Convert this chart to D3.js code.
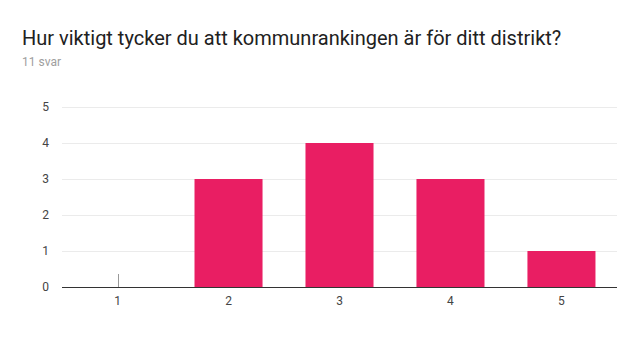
<!DOCTYPE html>
<html>
<head>
<meta charset="utf-8">
<script src="https://cdn.jsdelivr.net/npm/d3@7"></script>
<style>
  html, body { margin: 0; padding: 0; background: #fff; }
  svg { display: block; font-family: Roboto, "Noto Sans", Arial, sans-serif; }
</style>
</head>
<body>
<svg id="chart" width="618" height="337"></svg>
<script>
// Survey answers on a 1–5 scale
const categories = ["1", "2", "3", "4", "5"];
const counts = [0, 3, 4, 3, 1];
const yTicks = [0, 1, 2, 3, 4, 5];
const title = "Hur viktigt tycker du att kommunrankingen är för ditt distrikt?";
const subtitle = "11 svar";

const svg = d3.select("#chart");
const W = 618, H = 337;
const m = { left: 62, right: 1, top: 107, bottom: 50 };

svg.append("text")
  .attr("x", 22).attr("y", 45)
  .attr("font-size", 20).attr("fill", "#212121")
  .text(title);

svg.append("text")
  .attr("x", 22).attr("y", 66)
  .attr("font-size", 12).attr("fill", "#9e9e9e")
  .text(subtitle);

const x = d3.scaleBand()
  .domain(categories)
  .range([m.left, W - m.right])
  .paddingInner(0.387)
  .paddingOuter(0.194);

const y = d3.scaleLinear()
  .domain([0, 5])
  .range([H - m.bottom, m.top]);

// horizontal gridlines
svg.append("g")
  .selectAll("line")
  .data(yTicks.filter(d => d > 0))
  .join("line")
  .attr("x1", m.left).attr("x2", W - m.right)
  .attr("y1", d => Math.round(y(d)) + 0.5)
  .attr("y2", d => Math.round(y(d)) + 0.5)
  .attr("stroke", "#ebebeb").attr("stroke-width", 1);

// y tick labels
svg.append("g")
  .selectAll("text")
  .data(yTicks)
  .join("text")
  .attr("x", 49)
  .attr("y", d => y(d))
  .attr("dy", "0.35em")
  .attr("text-anchor", "end")
  .attr("font-size", 12).attr("fill", "#444")
  .text(d => d);

// bars
svg.append("g")
  .selectAll("rect")
  .data(categories.map((c, i) => ({ c, v: counts[i] })).filter(d => d.v > 0))
  .join("rect")
  .attr("x", d => x(d.c))
  .attr("width", x.bandwidth())
  .attr("y", d => y(d.v))
  .attr("height", d => y(0) - y(d.v))
  .attr("fill", "#e91e63");

// zero-count marker
svg.append("g")
  .selectAll("line")
  .data(categories.map((c, i) => ({ c, v: counts[i] })).filter(d => d.v === 0))
  .join("line")
  .attr("x1", d => Math.round(x(d.c) + x.bandwidth() / 2) + 0.5)
  .attr("x2", d => Math.round(x(d.c) + x.bandwidth() / 2) + 0.5)
  .attr("y1", y(0) - 13).attr("y2", y(0))
  .attr("stroke", "#999").attr("stroke-width", 1);

// baseline
svg.append("line")
  .attr("x1", m.left).attr("x2", W - m.right)
  .attr("y1", Math.round(y(0)) + 0.5).attr("y2", Math.round(y(0)) + 0.5)
  .attr("stroke", "#333").attr("stroke-width", 1);

// x tick labels
svg.append("g")
  .selectAll("text")
  .data(categories)
  .join("text")
  .attr("x", d => x(d) + x.bandwidth() / 2)
  .attr("y", y(0) + 18)
  .attr("text-anchor", "middle")
  .attr("font-size", 12).attr("fill", "#444")
  .text(d => d);
</script>
</body>
</html>
